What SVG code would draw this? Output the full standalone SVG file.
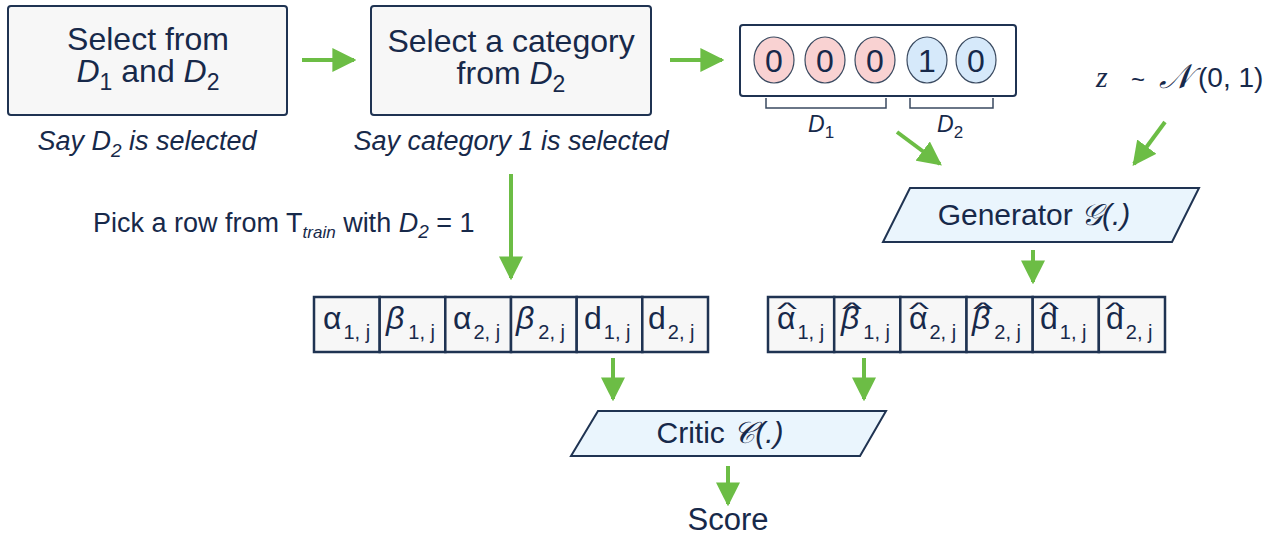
<svg xmlns="http://www.w3.org/2000/svg" width="1280" height="544" viewBox="0 0 1280 544">
<defs>
<style>
.t{font-family:"Liberation Sans",Arial,sans-serif;fill:#17294a}
.box{fill:#f7f7f7;stroke:#1f3352;stroke-width:2}
.para{fill:#eaf5fd;stroke:#1f3352;stroke-width:2}
.cell{fill:#f7f7f7;stroke:#1f3352;stroke-width:2.5}
.con{stroke:#6cbd45;stroke-width:4;fill:none}
.br{stroke:#3a4a60;stroke-width:1.5;fill:none}
.big{font-size:32px}
.cap{font-size:27px;font-style:italic}
.g{font-size:30px}
.c{font-size:32px}
.s{font-size:20px}
.hat{font-size:19px}
.red{fill:#f9d2d2;stroke:#3a4a60;stroke-width:1.2}
.blu{fill:#d6e9fa;stroke:#3a4a60;stroke-width:1.2}
.m{font-family:"DejaVu Sans","Liberation Serif",serif;font-style:italic}
</style>
<marker id="ah" viewBox="0 0 10 10" refX="9" refY="5" markerWidth="6" markerHeight="6" markerUnits="strokeWidth" orient="auto">
<path d="M0,0 L10,5 L0,10 Z" fill="#6cbd45"/>
</marker>
</defs>
<rect width="1280" height="544" fill="#ffffff"/>

<g id="connectors">
<line class="con" x1="302" y1="60" x2="354" y2="60" marker-end="url(#ah)"/>
<line class="con" x1="670" y1="60" x2="722" y2="60" marker-end="url(#ah)"/>
<line class="con" x1="897" y1="132" x2="940" y2="164" marker-end="url(#ah)"/>
<line class="con" x1="1165" y1="122" x2="1134" y2="164" marker-end="url(#ah)"/>
<line class="con" x1="511" y1="174" x2="511" y2="278" marker-end="url(#ah)"/>
<line class="con" x1="1033" y1="250" x2="1033" y2="282" marker-end="url(#ah)"/>
<line class="con" x1="613" y1="358" x2="613" y2="399" marker-end="url(#ah)"/>
<line class="con" x1="864" y1="358" x2="864" y2="399" marker-end="url(#ah)"/>
<line class="con" x1="728" y1="466" x2="728" y2="504" marker-end="url(#ah)"/>
</g>

<g id="select-d">
<rect class="box" x="8" y="6" width="279" height="109" rx="3"/>
<text class="t big" x="148" y="50" text-anchor="middle">Select from</text>
<text class="t big" x="148" y="82" text-anchor="middle"><tspan font-style="italic">D</tspan><tspan font-size="23" dy="8">1</tspan><tspan dy="-8"> and </tspan><tspan font-style="italic">D</tspan><tspan font-size="23" dy="8">2</tspan></text>
<text class="t cap" x="147" y="150" text-anchor="middle">Say D<tspan font-size="19" dy="7">2</tspan><tspan dy="-7"> is selected</tspan></text>
</g>

<g id="select-category">
<rect class="box" x="371" y="6" width="280" height="109" rx="3"/>
<text class="t big" x="511" y="52" text-anchor="middle">Select a category</text>
<text class="t big" x="511" y="84" text-anchor="middle">from <tspan font-style="italic">D</tspan><tspan font-size="23" dy="8">2</tspan></text>
<text class="t cap" x="511" y="150" text-anchor="middle">Say category 1 is selected</text>
</g>

<g id="onehot">
<rect class="box" x="740" y="25" width="276" height="71" rx="3" style="fill:#ffffff"/>
<ellipse class="red" cx="774" cy="60" rx="20" ry="23"/>
<ellipse class="red" cx="825" cy="60" rx="20" ry="23"/>
<ellipse class="red" cx="875" cy="60" rx="20" ry="23"/>
<ellipse class="blu" cx="927" cy="60" rx="20" ry="23"/>
<ellipse class="blu" cx="976" cy="60" rx="20" ry="23"/>
<text class="t c" x="774" y="72" text-anchor="middle">0</text>
<text class="t c" x="825" y="72" text-anchor="middle">0</text>
<text class="t c" x="875" y="72" text-anchor="middle">0</text>
<text class="t c" x="927" y="72" text-anchor="middle">1</text>
<text class="t c" x="976" y="72" text-anchor="middle">0</text>
<path class="br" d="M766,98 V108 H886 V98"/>
<path class="br" d="M910,98 V108 H993 V98"/>
<text class="t" x="808" y="132" font-size="23"><tspan font-style="italic">D</tspan><tspan font-size="17" dy="6">1</tspan></text>
<text class="t" x="937" y="132" font-size="23"><tspan font-style="italic">D</tspan><tspan font-size="17" dy="6">2</tspan></text>
</g>

<g id="noise">
<text class="t" x="1096" y="87" font-size="30" style="font-family:'Liberation Serif',serif;font-style:italic">z</text>
<text class="t" x="1131" y="88" font-size="24">~</text>
<text class="t m" x="1159" y="88" font-size="34">𝒩</text>
<text class="t" x="1198" y="87" font-size="28">(0, 1)</text>
</g>

<g id="generator">
<polygon class="para" points="910,188 1199,188 1172,242 883,242"/>
<text class="t g" x="1034" y="225" text-anchor="middle">Generator <tspan class="m">𝒢</tspan><tspan font-style="italic">(.)</tspan></text>
</g>

<g id="pick">
<text class="t" x="93" y="232" font-size="27">Pick a row from T<tspan font-size="17" font-style="italic" dy="6">train</tspan><tspan dy="-6"> with </tspan><tspan font-style="italic">D</tspan><tspan font-size="19" font-style="italic" dy="6">2</tspan><tspan dy="-6"> = 1</tspan></text>
</g>

<g id="real-row">
<rect class="cell" x="314" y="297" width="65.7" height="55"/>
<rect class="cell" x="379.7" y="297" width="65.7" height="55"/>
<rect class="cell" x="445.3" y="297" width="65.7" height="55"/>
<rect class="cell" x="511" y="297" width="65.7" height="55"/>
<rect class="cell" x="576.7" y="297" width="65.7" height="55"/>
<rect class="cell" x="642.3" y="297" width="65.7" height="55"/>
<text class="t c" x="323" y="329">α<tspan class="s" dx="2" dy="10">1, j</tspan></text>
<text class="t c" x="386" y="329"><tspan font-style="italic">β</tspan><tspan class="s" dx="4" dy="10">1, j</tspan></text>
<text class="t c" x="453" y="329">α<tspan class="s" dx="2" dy="10">2, j</tspan></text>
<text class="t c" x="516" y="329"><tspan font-style="italic">β</tspan><tspan class="s" dx="4" dy="10">2, j</tspan></text>
<text class="t c" x="584" y="329">d<tspan class="s" dx="2" dy="10">1, j</tspan></text>
<text class="t c" x="648" y="329">d<tspan class="s" dx="2" dy="10">2, j</tspan></text>
</g>

<g id="fake-row">
<rect class="cell" x="768" y="297" width="66.2" height="55"/>
<rect class="cell" x="834.2" y="297" width="66.2" height="55"/>
<rect class="cell" x="900.3" y="297" width="66.2" height="55"/>
<rect class="cell" x="966.5" y="297" width="66.2" height="55"/>
<rect class="cell" x="1032.7" y="297" width="66.2" height="55"/>
<rect class="cell" x="1098.8" y="297" width="66.2" height="55"/>
<text class="t c"><tspan class="hat" x="777" y="315" textLength="20" lengthAdjust="spacingAndGlyphs">^</tspan><tspan x="777" y="329">α</tspan><tspan class="s" dx="2" dy="10">1, j</tspan></text>
<text class="t c"><tspan class="hat" x="842" y="315" textLength="20" lengthAdjust="spacingAndGlyphs">^</tspan><tspan x="841" y="329" font-style="italic">β</tspan><tspan class="s" dx="4" dy="10">1, j</tspan></text>
<text class="t c"><tspan class="hat" x="909" y="315" textLength="20" lengthAdjust="spacingAndGlyphs">^</tspan><tspan x="909" y="329">α</tspan><tspan class="s" dx="2" dy="10">2, j</tspan></text>
<text class="t c"><tspan class="hat" x="973" y="315" textLength="20" lengthAdjust="spacingAndGlyphs">^</tspan><tspan x="972" y="329" font-style="italic">β</tspan><tspan class="s" dx="4" dy="10">2, j</tspan></text>
<text class="t c"><tspan class="hat" x="1039" y="315" textLength="20" lengthAdjust="spacingAndGlyphs">^</tspan><tspan x="1040" y="329">d</tspan><tspan class="s" dx="2" dy="10">1, j</tspan></text>
<text class="t c"><tspan class="hat" x="1105" y="315" textLength="20" lengthAdjust="spacingAndGlyphs">^</tspan><tspan x="1106" y="329">d</tspan><tspan class="s" dx="2" dy="10">2, j</tspan></text>
</g>

<g id="critic">
<polygon class="para" points="598,411 886,411 860,456 571,456"/>
<text class="t g" x="720" y="443" text-anchor="middle">Critic <tspan class="m">𝒞</tspan><tspan font-style="italic">(.)</tspan></text>
</g>

<g id="score">
<text class="t" x="728" y="530" font-size="31" text-anchor="middle">Score</text>
</g>
</svg>
